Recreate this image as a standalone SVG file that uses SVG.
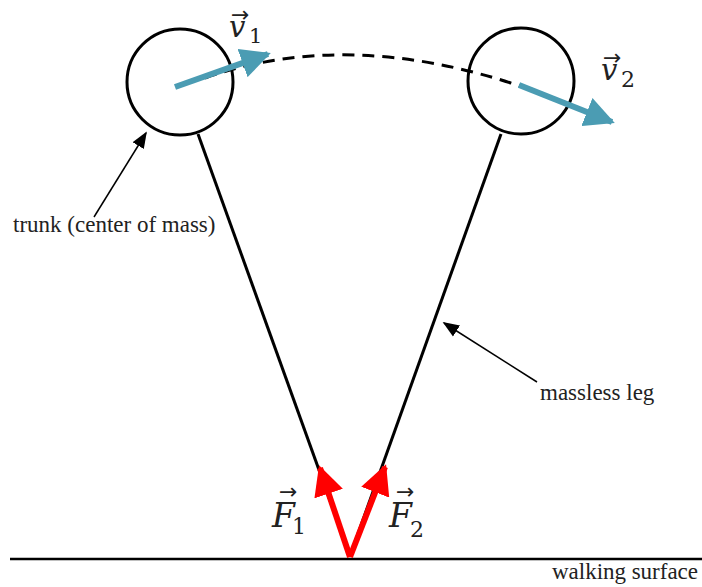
<svg xmlns="http://www.w3.org/2000/svg" width="702" height="587" viewBox="0 0 702 587">
<defs>
<style>
.lbl{font-family:"Liberation Serif","Times New Roman",serif;font-size:23px;fill:#222}
.math{font-family:"DejaVu Serif","Liberation Serif",serif;fill:#222}
.it{font-style:italic}
.acc{font-family:"DejaVu Sans",sans-serif}
.body{fill:#fff;stroke:#000;stroke-width:3}
.leg{stroke:#000;stroke-width:3;fill:none}
.vel{stroke:#4B9CB3;stroke-width:6;fill:none}
.force{stroke:#FF0000;stroke-width:6;fill:none}
.thin{stroke:#000;stroke-width:1.5;fill:none}
</style>
<marker id="hb" viewBox="0 0 10 10" refX="9" refY="5" markerWidth="5" markerHeight="5" markerUnits="strokeWidth" orient="auto"><path d="M0,0 L10,5 L0,10 z" fill="#4B9CB3"/></marker>
<marker id="hr" viewBox="0 0 10 10" refX="9" refY="5" markerWidth="5" markerHeight="5" markerUnits="strokeWidth" orient="auto"><path d="M0,0 L10,5 L0,10 z" fill="#FF0000"/></marker>
<marker id="hk" viewBox="0 0 10 10" refX="9" refY="5" markerWidth="11" markerHeight="11" markerUnits="strokeWidth" orient="auto"><path d="M0,1 L10,5 L0,9 z" fill="#000"/></marker>
</defs>
<g id="surface">
<line x1="10" y1="559" x2="702" y2="559" stroke="#000" stroke-width="2.5"/>
<text class="lbl" x="552" y="579" textLength="146" lengthAdjust="spacing">walking surface</text>
</g>
<g id="legs">
<line class="leg" x1="198" y1="134" x2="350" y2="556"/>
<line class="leg" x1="501" y1="134" x2="350" y2="556"/>
</g>
<g id="trunk1"><circle class="body" cx="180" cy="82" r="53"/></g>
<g id="trunk2"><circle class="body" cx="521" cy="81" r="53"/></g>
<g id="connectors">
<path d="M205,78 Q347,28 520,86" stroke="#000" stroke-width="3" fill="none" stroke-dasharray="12,8"/>
<line class="vel" x1="175" y1="87" x2="268" y2="54" marker-end="url(#hb)"/>
<line class="vel" x1="519" y1="85" x2="612" y2="122" marker-end="url(#hb)"/>
<line class="force" x1="350" y1="557" x2="320" y2="468" marker-end="url(#hr)"/>
<line class="force" x1="350" y1="557" x2="385" y2="467" marker-end="url(#hr)"/>
<line class="thin" x1="94" y1="217" x2="146" y2="133" marker-end="url(#hk)"/>
<line class="thin" x1="537" y1="382" x2="444" y2="323" marker-end="url(#hk)"/>
</g>
<g id="labels">
<text class="lbl" x="13" y="232">trunk (center of mass)</text>
<text class="lbl" x="540" y="400">massless leg</text>
<text class="math"><tspan class="it" x="229" y="37" font-size="29">v</tspan><tspan class="acc" x="231" y="22" font-size="22">→</tspan><tspan x="249" y="43" font-size="21">1</tspan></text>
<text class="math"><tspan class="it" x="601" y="80" font-size="29">v</tspan><tspan class="acc" x="603" y="65" font-size="22">→</tspan><tspan x="621" y="87" font-size="22">2</tspan></text>
<text class="math"><tspan class="it" x="272" y="527" font-size="33">F</tspan><tspan class="acc" x="279" y="499" font-size="22">→</tspan><tspan x="292" y="534" font-size="22">1</tspan></text>
<text class="math"><tspan class="it" x="389" y="527" font-size="33">F</tspan><tspan class="acc" x="396" y="499" font-size="22">→</tspan><tspan x="410" y="537" font-size="22">2</tspan></text>
</g>
</svg>
